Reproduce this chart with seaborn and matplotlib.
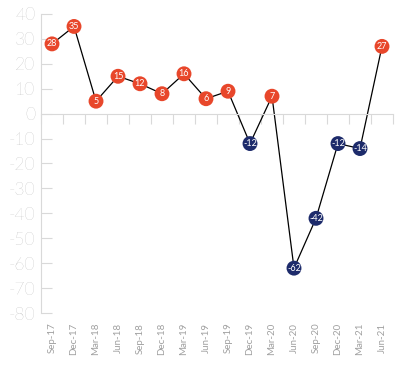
import numpy as np
import pandas as pd
import matplotlib
matplotlib.use("Agg")
import matplotlib.pyplot as plt
import seaborn as sns

categories = ["Sep-17", "Dec-17", "Mar-18", "Jun-18", "Sep-18", "Dec-18", "Mar-19", "Jun-19",
              "Sep-19", "Dec-19", "Mar-20", "Jun-20", "Sep-20", "Dec-20", "Mar-21", "Jun-21"]
values = [28, 35, 5, 15, 12, 8, 16, 6, 9, -12, 7, -62, -42, -12, -14, 27]
y_ticks = [40, 30, 20, 10, 0, -10, -20, -30, -40, -50, -60, -70, -80]

RED = "#E8472B"
NAVY = "#1D2B6B"
AXIS_GREY = "#d9d9d9"
TEXT_GREY = "#a0a0a0"

df = pd.DataFrame({"pos": np.arange(len(categories)), "cat": categories, "val": values})
df["sign"] = np.where(df["val"] >= 0, "pos", "neg")

sns.set_style("white")
plt.rcParams["font.family"] = ["Lato", "DejaVu Sans"]

fig = plt.figure(figsize=(4.11, 3.71), dpi=100)
ax = fig.add_axes([0.0998, 0.1563, 0.9562 - 0.0998, 0.9623 - 0.1563])

sns.lineplot(data=df, x="pos", y="val", color="black", linewidth=0.9, ax=ax, zorder=2)
sns.scatterplot(data=df, x="pos", y="val", hue="sign", palette={"pos": RED, "neg": NAVY},
                s=115, edgecolor="none", legend=False, ax=ax, zorder=3)

for x, y in zip(df["pos"], df["val"]):
    ax.text(x, y, str(y), color="white", fontsize=6.5, ha="center", va="center",
            zorder=10)

ax.set_xlim(-0.5, len(categories) - 0.5)
ax.set_ylim(-80, 40)

# y axis
ax.set_yticks(y_ticks)
ax.set_yticklabels([str(t) for t in y_ticks])
ax.tick_params(axis="y", left=True, direction="in", length=8, width=0.8, color=AXIS_GREY,
               labelsize=12.5, labelcolor=TEXT_GREY, pad=4)
for lab in ax.get_yticklabels():
    lab.set_fontweight("light")

# spines
for s in ["top", "right"]:
    ax.spines[s].set_visible(False)
ax.spines["left"].set_color(AXIS_GREY)
ax.spines["left"].set_linewidth(0.8)
ax.spines["bottom"].set_position(("data", 0))
ax.spines["bottom"].set_color(AXIS_GREY)
ax.spines["bottom"].set_linewidth(0.8)

# boundary ticks on zero line
ax.set_xticks(np.arange(-0.5, len(categories), 1))
ax.set_xticklabels([])
ax.tick_params(axis="x", bottom=True, direction="out", length=7, width=0.8, color=AXIS_GREY)
ax.set_xlabel("")
ax.set_ylabel("")

# category labels at bottom
sec = ax.secondary_xaxis(0.0)
sec.set_xticks(df["pos"])
sec.set_xticklabels(categories, rotation=90, fontsize=7, color=TEXT_GREY)
sec.tick_params(axis="x", bottom=False, length=0, pad=7)
sec.spines["bottom"].set_visible(False)

fig.savefig("out.png", dpi=100)
